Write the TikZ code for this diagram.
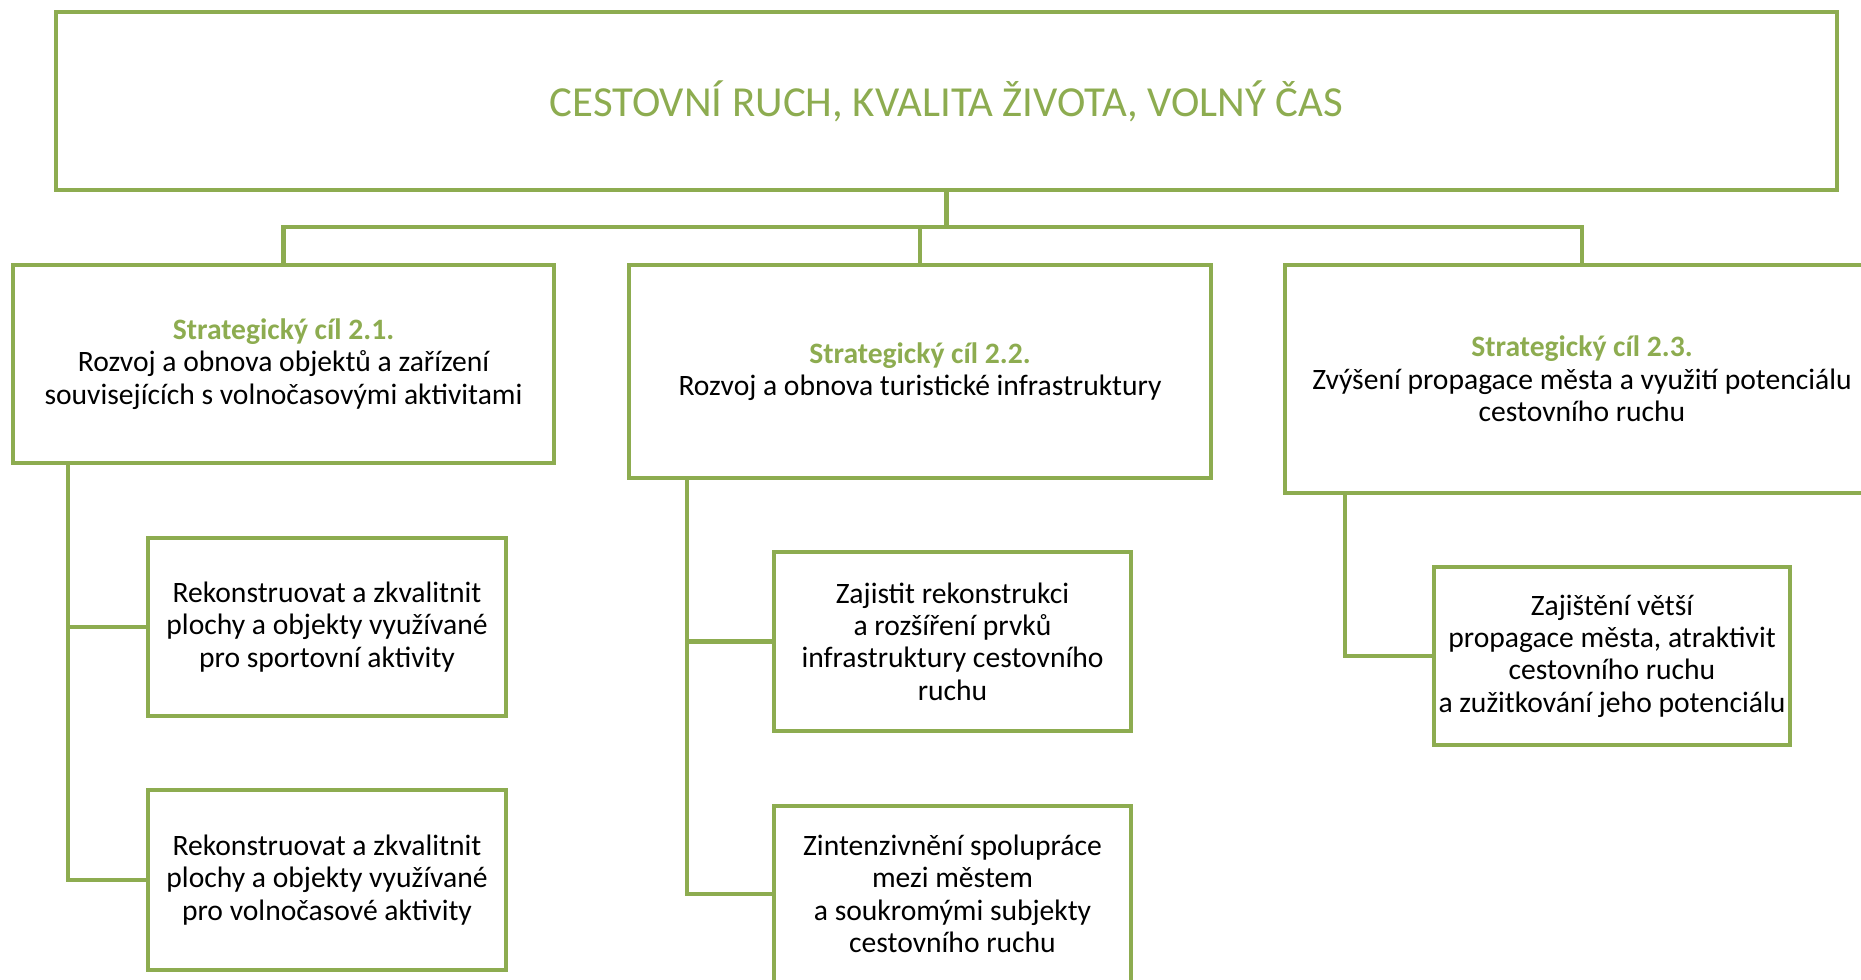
\documentclass[tikz,border=0pt]{standalone}
\usepackage{fontspec}
\setmainfont{Carlito}
\definecolor{olive}{RGB}{141,172,80}
\begin{document}
\begin{tikzpicture}[x=1pt,y=-1pt,
  box/.style={draw=olive,line width=4.2pt,rectangle,inner sep=0pt,align=center,
    font=\fontsize{29.6}{32.4}\selectfont,text=black},
  conn/.style={draw=olive,line width=4.2pt,line join=miter}]
\path[use as bounding box] (0,0) rectangle (1861,980);
\clip (0,0) rectangle (1861,980);
\node[box,minimum width=1781pt,minimum height=178pt,text=olive,font=\fontsize{42.8}{46}\selectfont] (top) at (946.5,101) {CESTOVNÍ RUCH, KVALITA ŽIVOTA, VOLNÝ ČAS};
\node[box,minimum width=541pt,minimum height=198pt] (s1) at (283.5,364) {\textcolor{olive}{\textbf{Strategický cíl 2.1.}}\\Rozvoj a obnova objektů a zařízení\\souvisejících s volnočasovými aktivitami};
\node[box,minimum width=582pt,minimum height=213pt] (s2) at (920,371.5) {\textcolor{olive}{\textbf{Strategický cíl 2.2.}}\\Rozvoj a obnova turistické infrastruktury};
\node[box,minimum width=594pt,minimum height=228pt] (s3) at (1582,379) {\textcolor{olive}{\textbf{Strategický cíl 2.3.}}\\Zvýšení propagace města a využití potenciálu\\cestovního ruchu};
\node[box,minimum width=358pt,minimum height=178pt] (c11) at (327,627) {Rekonstruovat a zkvalitnit\\plochy a objekty využívané\\pro sportovní aktivity};
\node[box,minimum width=358pt,minimum height=180pt] (c12) at (327,880) {Rekonstruovat a zkvalitnit\\plochy a objekty využívané\\pro volnočasové aktivity};
\node[box,minimum width=357pt,minimum height=179pt] (c21) at (952.5,641.5) {Zajistit rekonstrukci\\a rozšíření prvků\\infrastruktury cestovního\\ruchu};
\node[box,minimum width=357pt,minimum height=176pt] (c22) at (952.5,894) {Zintenzivnění spolupráce\\mezi městem\\a soukromými subjekty\\cestovního ruchu};
\node[box,minimum width=356pt,minimum height=178pt] (c31) at (1612,656) {Zajištění větší\\propagace města, atraktivit\\cestovního ruchu\\a zužitkování jeho potenciálu};
\coordinate (hb) at (946.5,227);
\coordinate (sp1) at (68,463);
\coordinate (sp2) at (687,478);
\coordinate (sp3) at (1345,493);
\draw[conn] (top.south) -- (hb);
\draw[conn] (s1.north) |- (hb) -| (s3.north);
\draw[conn] (s2.north) -- (s2.north |- hb);
\draw[conn] (sp1) |- (c11.west);
\draw[conn] (sp1) |- (c12.west);
\draw[conn] (sp2) |- (c21.west);
\draw[conn] (sp2) |- (c22.west);
\draw[conn] (sp3) |- (c31.west);
\end{tikzpicture}
\end{document}
